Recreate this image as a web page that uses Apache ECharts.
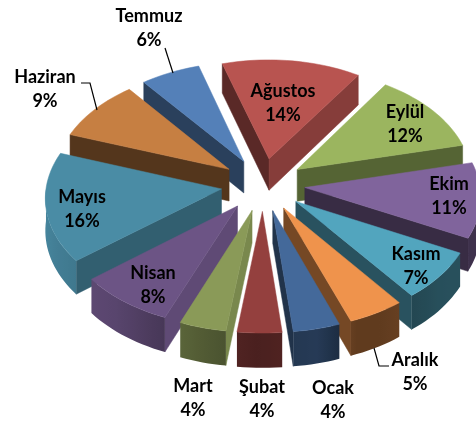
<!DOCTYPE html>
<html>
<head>
<meta charset="utf-8">
<style>html,body{margin:0;padding:0;background:#fff}#main{width:476px;height:421px}</style>
<script src="https://cdn.jsdelivr.net/npm/echarts@6/dist/echarts.min.js"></script>
</head>
<body>
<div id="main"></div>
<script>
// aylar, Ocak'tan saat yönünde
var months = ['Ocak', 'Şubat', 'Mart', 'Nisan', 'Mayıs', 'Haziran', 'Temmuz', 'Ağustos', 'Eylül', 'Ekim', 'Kasım', 'Aralık'];
// resimden okunan paylar, etiketler yuvarlanmış hali
var shares = [4.0, 3.8, 4.0, 8.2, 16.0, 9.0, 6.0, 14.0, 12.0, 11.0, 7.2, 4.8];
var colors = ['#44699A', '#94403E', '#8A9A58', '#6C5485', '#4A8CA5', '#C67F42', '#5480B8', '#B85450', '#9BB55F', '#80649C', '#52A5BE', '#EF934C'];

// etiket merkezleri (px)
var labelPos = [[333, 400], [262, 399], [193, 398], [153, 285], [82, 209], [45, 89], [149, 28], [283, 103], [405, 124], [449, 196], [416, 266], [415, 372]];

var firstAngle = 159.6;
var cx = 263, cy = 184.5;
var R = 175, explode = 42, depth = 32;
var ky = 0.63, persp = 0.07;

// yüz gölgeleri: [normal açısı, parlaklık]
var rimShade = [[90, 0.5], [130, 0.48], [150, 0.4], [158, 0.4], [167, 0.56], [182, 0.5], [196, 0.6], [220, 0.82], [260, 0.95], [270, 0.95]];
var faceShade = [[90, 0.88], [113, 0.88], [124, 0.72], [142, 0.68], [167, 0.55], [200, 0.42], [232, 0.5], [270, 0.48]];

function norm(a) { return ((a % 360) + 360) % 360; }

function lookup(table, n) {
    if (n <= table[0][0]) return table[0][1];
    for (var i = 1; i < table.length; i++) {
        if (n <= table[i][0]) {
            var t = (n - table[i - 1][0]) / (table[i][0] - table[i - 1][0]);
            return table[i - 1][1] + t * (table[i][1] - table[i - 1][1]);
        }
    }
    return table[table.length - 1][1];
}

function shade(hex, f) {
    var n = parseInt(hex.slice(1), 16);
    var r = Math.round((n >> 16) * f), g = Math.round(((n >> 8) & 255) * f), b = Math.round((n & 255) * f);
    return 'rgb(' + r + ',' + g + ',' + b + ')';
}

function rad(a) { return a * Math.PI / 180; }

// düzlemdeki noktayı ekrana izdüşür
function project(X, Y, z) {
    var s = 1 + persp * Y / R;
    return [cx + X * s, cy + Y * ky * s + z * s];
}

// dilim açıları paylardan
var total = shares.reduce(function (a, b) { return a + b; }, 0);
var slices = [];
var acc = firstAngle;
months.forEach(function (m, i) {
    var sweep = shares[i] / total * 360;
    slices.push({ idx: i, a0: acc, a1: acc + sweep, mid: acc + sweep / 2 });
    acc += sweep;
});
// uzaktan yakına çiz
var drawOrder = slices.slice().sort(function (a, b) {
    return -Math.cos(rad(a.mid)) - -Math.cos(rad(b.mid));
}).map(function (s) { return s.idx; });

function renderSlice(params, api) {
    var s = slices[api.value(0)];
    var col = colors[s.idx];
    var base = params.dataIndex * 4;
    var ax = explode * Math.sin(rad(s.mid)), ay = -explode * Math.cos(rad(s.mid));
    function pt(a, r, z) {
        return project(ax + r * Math.sin(rad(a)), ay - r * Math.cos(rad(a)), z);
    }
    function poly(points, fill, z2) {
        return {
            type: 'polygon',
            z2: z2,
            shape: { points: points },
            style: { fill: fill, stroke: fill, lineWidth: 0.5 }
        };
    }
    var children = [];
    // iç yüzler, sadece öne bakanlar
    [[s.a0, s.a0 - 90], [s.a1, s.a1 + 90]].forEach(function (e) {
        var n = norm(e[1]);
        if (n > 90 && n < 270) {
            children.push(poly([pt(e[0], 0, 0), pt(e[0], R, 0), pt(e[0], R, depth), pt(e[0], 0, depth)], shade(col, lookup(faceShade, n)), base));
        }
    });
    // dış kenar, öne bakan kısmı
    var sweep = s.a1 - s.a0;
    var a0n = norm(s.a0);
    var from = Math.max(a0n, 90), to = Math.min(a0n + sweep, 270);
    if (to > from) {
        var upper = [], lower = [], stops = [];
        var n = Math.ceil((to - from) / 2);
        for (var k = 0; k <= n; k++) {
            var a = from + (to - from) * k / n;
            upper.push(pt(a, R, 0));
            lower.unshift(pt(a, R, depth));
        }
        var x0 = upper[0][0], x1 = upper[n][0];
        for (k = 0; k <= n; k++) {
            stops.push({
                offset: Math.max(0, Math.min(1, (upper[k][0] - x0) / (x1 - x0))),
                color: shade(col, lookup(rimShade, from + (to - from) * k / n))
            });
        }
        var grad = new echarts.graphic.LinearGradient(x0, 0, x1, 0, stops, true);
        children.push({
            type: 'polygon',
            z2: base + 1,
            shape: { points: upper.concat(lower) },
            style: { fill: grad }
        });
    }
    // üst yüz
    var steps = Math.ceil(sweep / 2);
    var top = [pt(s.a0, 0, 0)];
    for (var j = 0; j <= steps; j++) {
        top.push(pt(s.a0 + sweep * j / steps, R, 0));
    }
    children.push(poly(top, col, base + 2));
    // etiket
    children.push({
        type: 'text',
        z2: 200,
        x: labelPos[s.idx][0],
        y: labelPos[s.idx][1],
        style: {
            text: months[s.idx] + '\n' + Math.round(shares[s.idx]) + '%',
            fill: '#000',
            font: 'bold 18px Lato',
            lineHeight: 24.5,
            align: 'center',
            verticalAlign: 'middle'
        }
    });
    return { type: 'group', children: children };
}

var chart = echarts.init(document.getElementById('main'), null, { renderer: 'canvas' });
var leader = { stroke: '#000', lineWidth: 1.2 };
chart.setOption({
    animation: false,
    backgroundColor: '#fff',
    graphic: [
        { type: 'polyline', z: 10, shape: { points: [[165, 48], [173, 73]] }, style: leader },
        { type: 'polyline', z: 10, shape: { points: [[81, 83], [90, 83], [97, 110]] }, style: leader },
        { type: 'polyline', z: 10, shape: { points: [[374, 348], [379, 366], [389, 366]] }, style: leader }
    ],
    series: [{
        type: 'custom',
        coordinateSystem: 'none',
        renderItem: renderSlice,
        silent: true,
        clip: false,
        data: drawOrder.map(function (i) { return [i, shares[i]]; })
    }]
});
</script>
</body>
</html>
